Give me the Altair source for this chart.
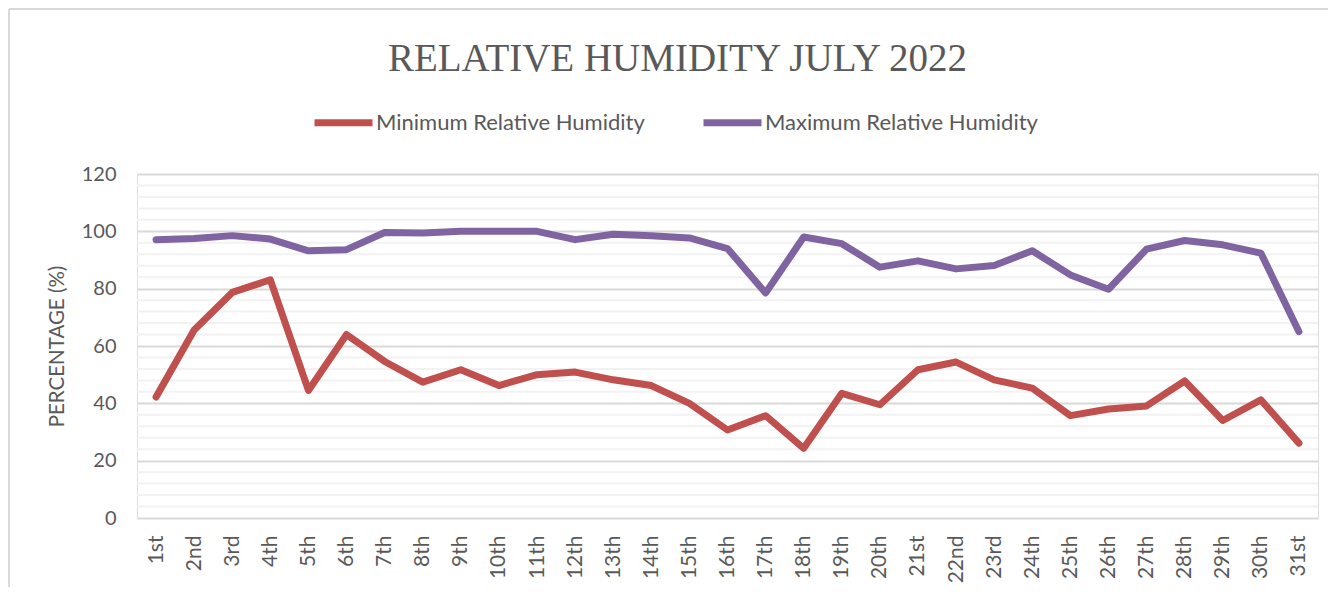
import altair as alt
import pandas as pd

days = ["1st", "2nd", "3rd", "4th", "5th", "6th", "7th", "8th", "9th", "10th",
        "11th", "12th", "13th", "14th", "15th", "16th", "17th", "18th", "19th", "20th",
        "21st", "22nd", "23rd", "24th", "25th", "26th", "27th", "28th", "29th", "30th", "31st"]

min_rh = [42.2, 65.6, 78.7, 83.1, 44.5, 64.0, 54.6, 47.4, 51.7, 46.2,
          50.0, 50.9, 48.2, 46.2, 40.0, 30.7, 35.7, 24.3, 43.5, 39.5,
          51.7, 54.4, 48.2, 45.3, 35.7, 38.0, 39.1, 47.8, 34.0, 41.2, 26.1]

max_rh = [97.1, 97.5, 98.5, 97.3, 93.2, 93.6, 99.6, 99.4, 100.0, 100.0,
          100.0, 97.1, 99.0, 98.5, 97.7, 94.0, 78.5, 98.0, 95.7, 87.5,
          89.7, 86.9, 88.1, 93.2, 84.8, 79.8, 93.8, 96.8, 95.3, 92.4, 65.0]

series_names = ["Minimum Relative Humidity", "Maximum Relative Humidity"]
series_colors = ["#C0504D", "#8064A2"]

major_ticks = [0, 20, 40, 60, 80, 100, 120]
minor_ticks = [v for v in range(4, 120, 4) if v % 20 != 0]

rows = []
for d, lo, hi in zip(days, min_rh, max_rh):
    rows.append({"day": d, "series": series_names[0], "value": lo})
    rows.append({"day": d, "series": series_names[1], "value": hi})
df = pd.DataFrame(rows)

TEXT = "#595959"
FONT = "Lato"

y_scale = alt.Scale(domain=[0, 120])
x_scale = alt.Scale(type="point", padding=0.5)

minor = alt.Chart(pd.DataFrame({"v": minor_ticks})).mark_rule(
    color="#f2f2f2", strokeWidth=2
).encode(y=alt.Y("v:Q", scale=y_scale))

lines = alt.Chart(df).mark_line(
    strokeWidth=7, strokeCap="round", strokeJoin="round"
).encode(
    x=alt.X("day:N", sort=days, scale=x_scale,
            axis=alt.Axis(title=None, labelAngle=270, labelAlign="right",
                          labelBaseline="middle", labelPadding=17, ticks=False,
                          domain=False, grid=False, labelFontSize=21,
                          labelColor=TEXT, labelFont=FONT)),
    y=alt.Y("value:Q", scale=y_scale,
            axis=alt.Axis(values=major_ticks, title="PERCENTAGE (%)", ticks=False,
                          domain=False, labelPadding=21, labelFontSize=20,
                          labelColor=TEXT, labelFont=FONT,
                          gridColor="#d9d9d9", gridWidth=2,
                          titleFont=FONT, titleFontSize=20.5, titleFontWeight="normal",
                          titleColor=TEXT, titleX=-80, titleY=172,
                          titleAngle=270, titleAlign="center", titleBaseline="middle")),
    color=alt.Color("series:N", sort=series_names,
                    scale=alt.Scale(domain=series_names, range=series_colors),
                    legend=alt.Legend(title=None, orient="none", direction="horizontal",
                                      legendX=174, legendY=-84,
                                      symbolType="stroke", symbolSize=3364,
                                      symbolStrokeWidth=7, labelFontSize=22,
                                      labelFont=FONT, labelColor=TEXT, labelOffset=0,
                                      labelLimit=500, columnPadding=44)),
    detail="series:N",
)

frame_df = pd.DataFrame({"a": [0]})
frame_left = alt.Chart(frame_df).mark_rule(color="#d9d9d9", strokeWidth=2).encode(
    x=alt.value(-128), y=alt.value(-165), y2=alt.value(430))
frame_top = alt.Chart(frame_df).mark_rule(color="#d9d9d9", strokeWidth=2).encode(
    x=alt.value(-128), x2=alt.value(1200), y=alt.value(-165))

chart = alt.layer(frame_left, frame_top, minor, lines).properties(
    width=1181, height=344,
    title=alt.TitleParams("RELATIVE HUMIDITY JULY 2022", font="Liberation Serif",
                          fontSize=39, fontWeight="normal", color=TEXT,
                          anchor="middle", dx=-50, offset=0, dy=102, baseline="alphabetic"),
    autosize=alt.AutoSizeParams(type="none"),
    padding={"left": 129, "top": 166, "right": 10, "bottom": 69},
).configure_view(stroke=None).configure(background="white")

chart.save("out.html", embed_options={"renderer": "svg", "actions": False})
